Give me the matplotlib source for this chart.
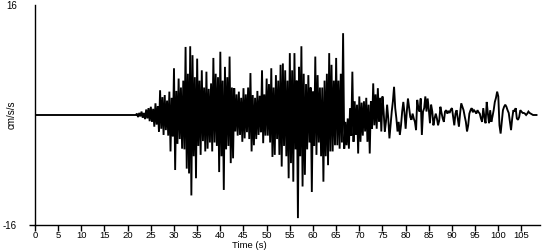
import numpy as np
import matplotlib
matplotlib.use("Agg")
import matplotlib.pyplot as plt

plt.rcParams['font.family'] = ['Liberation Sans', 'DejaVu Sans']

# sampling interval of the digitised record (s)
dt = 0.25

# quiet pre-event part, 0 - 22 s
accel_quiet = [0.0] * 88

# strong-motion part, 22 - 75 s (cm/s/s)
accel_strong = [
    0.2, -0.3, 0.3, -0.2,
    0.5, -0.4, 0.3, -0.6,
    0.8, -0.5, 1.0, -0.9,
    1.2, -1.0, 0.9, -1.7,
    1.7, -1.4, 1.3, -2.4,
    3.6, -2.0, 2.6, -2.9,
    2.9, -2.2, 2.1, -3.0,
    3.4, -5.3, 2.5, -3.1,
    6.8, -8.0, 3.5, -4.2,
    5.3, -3.5, 4.0, -4.9,
    5.0, -5.0, 9.9, -7.8,
    6.0, -8.5, 10.0, -11.7,
    8.7, -6.0, 5.5, -9.2,
    8.2, -4.5, 5.0, -5.8,
    6.5, -3.8, 4.0, -5.3,
    6.3, -4.9, 3.8, -4.0,
    4.6, -5.3, 8.3, -4.0,
    6.0, -4.5, 5.5, -8.3,
    9.2, -6.0, 5.0, -10.9,
    7.0, -5.0, 5.5, -4.5,
    8.5, -7.0, 4.0, -6.3,
    3.9, -2.4, 3.0, -3.0,
    3.4, -2.9, 2.5, -3.9,
    3.9, -3.4, 3.0, -2.5,
    4.0, -3.5, 6.1, -5.3,
    2.9, -4.4, 2.5, -3.5,
    3.5, -2.9, 2.8, -2.5,
    6.5, -4.1, 3.0, -3.0,
    5.3, -3.0, 4.5, -4.0,
    6.8, -6.1, 4.0, -5.8,
    5.8, -3.5, 5.0, -5.8,
    7.3, -7.5, 7.5, -4.5,
    6.5, -6.0, 5.0, -9.2,
    9.0, -7.0, 6.5, -9.7,
    9.0, -5.0, 5.0, -15.0,
    7.0, -6.0, 10.0, -10.4,
    6.0, -8.7, 4.5, -5.0,
    5.8, -4.0, 4.0, -11.2,
    3.4, -4.5, 8.5, -5.8,
    5.8, -4.0, 4.0, -6.0,
    4.0, -9.7, 5.0, -6.0,
    6.0, -7.3, 9.0, -5.3,
    7.3, -5.3, 5.0, -4.4,
    8.3, -4.4, 5.0, -4.9,
    6.0, -4.0, 11.9, -4.9,
    -1.0, -4.4, -0.5, -4.9,
    1.0, -3.0, 6.3, -3.9,
    2.0, -2.9, 1.5, -5.6,
    2.7, -3.9, 1.8, -3.0,
    2.0, -2.4, 2.5, -3.9,
    1.5, -5.6, 2.0, -2.0,
    4.6, -1.5, 3.0, -2.0,
    3.9, -1.0, 2.5, -2.4,
]

# coda, 75 - 108.25 s (cm/s/s)
accel_coda = [
    2.7, 0.5, -2.4, -1.0,
    1.5, -0.5, -3.4, -1.5,
    0.5, 2.0, 4.1, 1.0,
    -0.5, -2.4, -1.0, -2.9,
    -1.5, 0.5, 1.9, 0.3,
    -2.0, 0.5, 2.4, 1.0,
    -0.3, -0.7, 0.2, -0.5,
    -1.0, -2.2, 2.2, 1.0,
    0.5, 2.4, -2.9, 0.5,
    1.0, 2.7, 0.5, 2.4,
    0.8, -1.2, 1.5, 0.5,
    -1.5, -0.5, 0.2, -0.5,
    -1.5, -0.8, 1.2, 0.3,
    -0.5, -1.0, 0.5, 0.7,
    0.2, 0.6, 0.3, 0.8,
    1.0, -0.2, -1.5, 0.2,
    0.7, -0.5, -1.7, 0.2,
    1.7, 1.2, 0.7, -0.2,
    -1.0, -2.4, -1.5, 0.2,
    0.7, 1.0, 0.4, 0.7,
    0.5, 0.2, 0.7, 0.4,
    0.2, -0.5, -1.0, 1.0,
    -0.3, -1.2, 1.9, 0.2,
    -1.2, 0.7, -1.0, -0.2,
    0.7, 1.9, 2.5, 3.4,
    2.7, -1.5, -2.7, -1.0,
    0.7, 1.2, 1.5, 1.2,
    0.7, 0.3, -1.0, -2.2,
    -0.5, 0.7, 0.5, 1.0,
    -0.5, -0.7, -0.3, 0.7,
    0.5, 0.3, 0.3, 0.2,
    0.0, 0.2, 0.5, 0.3,
    0.2, 0.1, 0.0, 0.0,
    0.0, 0.0,
]

x_ticks = list(range(0, 110, 5))
y_ticks = [-16, 16]

accel = np.array(accel_quiet + accel_strong + accel_coda)
time_s = np.arange(len(accel)) * dt

fig = plt.figure(figsize=(5.5, 2.5), dpi=100)
ax = fig.add_axes([35 / 550, 1 - 225 / 250, 505 / 550, 220 / 250])
ax.plot(time_s, accel, color='black', lw=1.35, solid_joinstyle='miter')

ax.set_xlim(0, 109)
ax.set_ylim(-16, 16)
ax.set_xticks(x_ticks)
ax.set_xticklabels([str(v) for v in x_ticks])
ax.set_yticks(y_ticks)
ax.set_yticklabels([str(v) for v in y_ticks])

for s in ['top', 'right']:
    ax.spines[s].set_visible(False)
for s in ['left', 'bottom']:
    ax.spines[s].set_linewidth(1.0)
    ax.spines[s].set_color('black')

ax.tick_params(axis='x', length=4, width=1, pad=0.5, labelsize=6.8, colors='black')
ax.tick_params(axis='y', length=4, width=1, pad=9, labelsize=7, colors='black')
ax.yaxis.get_major_ticks()[1].tick1line.set_visible(False)

fig.text(12 / 550, 1 - 115 / 250, 'cm/s/s', rotation=90, ha='center', va='center', fontsize=7)
fig.text(249 / 550, 0.0, 'Time (s)', ha='center', va='bottom', fontsize=6.8)

fig.savefig('out.png', dpi=100, facecolor='white')
